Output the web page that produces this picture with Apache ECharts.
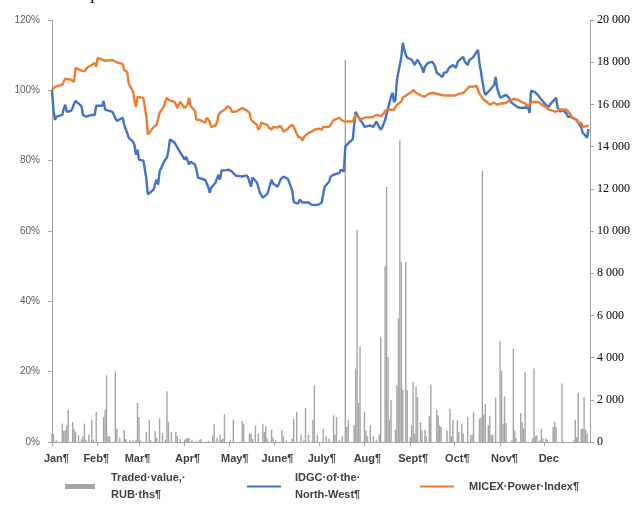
<!DOCTYPE html>
<html>
<head>
<meta charset="utf-8">
<script src="https://cdn.jsdelivr.net/npm/echarts@6/dist/echarts.min.js"></script>
<style>
  html, body { margin: 0; padding: 0; background: #fff; }
  #chart { width: 633px; height: 511px; }
</style>
</head>
<body>
<div id="chart"></div>
<script>
// month ticks (day of year) and the month labels
const monthStarts = [0, 31, 59, 90, 120, 151, 181, 212, 243, 273, 304, 334]
const monthLabelDays = [3, 30, 58, 92, 124, 153, 183, 214, 245, 275, 307, 337]
const monthLabels = ['Jan¶', 'Feb¶', 'Mar¶', 'Apr¶', 'May¶', 'June¶', 'July¶', 'Aug¶', 'Sept¶', 'Oct¶', 'Nov¶', 'Dec']

// non-trading weekdays (day of year)
const holidays = [6, 38, 66, 101, 128, 162, 192, 227, 262, 307, 339]

// IDGC of the North-West, % of first day (one value per trading day)
const idgc = [
  100, 94.5, 91.6, 92.5, 93.0, 94.8, 95.9, 93.9, 94.2, 95.0,
  96.2, 97.0, 96.8, 95.5, 93.0, 93.4, 92.5, 92.8, 93.0, 93.2,
  93.0, 95.6, 95.3, 95.6, 97.0, 94.5, 94.3, 93.9, 93.0, 92.0,
  91.3, 91.8, 92.2, 90.2, 89.0, 87.9, 86.5, 85.4, 84.3, 81.7,
  83.1, 80.3, 80.0, 79.7, 75.0, 70.4, 71.8, 73.5, 74.6, 73.2,
  76.9, 79.7, 80.2, 80.9, 82.8, 86.0, 85.2, 84.5, 83.8, 83.1,
  82.6, 80.3, 81.1, 80.0, 78.9, 79.7, 78.9, 77.4, 75.2, 75.6,
  74.5, 74.0, 72.5, 70.9, 72.3, 73.8, 75.0, 76.0, 74.6, 77.2,
  77.3, 77.6, 77.4, 77.0, 76.9, 75.7, 75.9, 75.6, 75.5, 75.8,
  75.2, 75.2, 72.6, 75.2, 73.8, 72.5, 70.9, 70.2, 69.5, 70.5,
  71.8, 73.2, 74.6, 73.5, 72.6, 73.5, 74.6, 74.2, 75.5, 74.8,
  73.8, 71.5, 68.2, 67.8, 68.9, 68.4, 68.1, 68.3, 68.1, 67.8,
  67.5, 67.0, 67.4, 67.5, 68.0, 68.1, 70.5, 72.6, 74.0, 75.5,
  75.8, 76.0, 76.5, 77.4, 77.0, 76.9, 84.0, 85.4, 85.6, 86.0,
  90.0, 93.9, 91.6, 91.6, 90.5, 89.6, 89.4, 90.0, 90.2, 89.6,
  89.4, 91.1, 88.8, 89.4, 90.5, 91.6, 98.2, 99.3, 96.7, 97.3,
  103.0, 109.5, 113.5, 111.5, 110.1, 109.3, 108.7, 108.0, 107.2, 108.0,
  108.7, 106.5, 105.0, 106.7, 107.2, 107.8, 108.1, 107.5, 106.7, 105.0,
  103.8, 105.0, 105.2, 105.2, 106.2, 107.2, 106.8, 106.4, 107.8, 108.5,
  109.5, 108.2, 107.8, 107.2, 108.5, 109.5, 110.2, 110.9, 111.5, 107.8,
  100.1, 98.7, 99.0, 99.6, 99.6, 101.5, 103.8, 100.7, 99.3, 97.9,
  98.7, 98.3, 97.9, 96.8, 95.8, 95.3, 95.2, 95.0, 95.0, 95.1,
  95.0, 95.0, 93.6, 99.9, 99.4, 99.6, 98.5, 97.9, 98.2, 95.9,
  95.5, 95.3, 96.0, 97.9, 95.0, 94.5, 93.9, 94.5, 93.5, 92.5,
  92.6, 92.5, 92.0, 91.6, 90.8, 91.1, 89.5, 88.0, 86.5, 89.0
]

// MICEX Power Index, % of first day
const micex = [
  100.1, 100.5, 101.0, 101.3, 101.6, 102.5, 103.3, 103.2, 103.0, 102.6,
  102.4, 106.4, 106.1, 105.6, 105.2, 105.4, 105.5, 106.5, 107.2, 107.5,
  107.8, 106.7, 109.2, 108.7, 108.6, 108.4, 108.5, 108.6, 108.7, 108.2,
  107.8, 107.8, 107.5, 105.8, 105.4, 105.2, 102.0, 99.6, 97.0, 95.3,
  98.2, 98.2, 97.8, 97.3, 92.5, 87.4, 89.6, 89.8, 90.2, 91.8,
  93.6, 95.5, 97.0, 97.9, 97.3, 97.0, 96.7, 96.0, 95.0, 96.0,
  96.7, 95.0, 95.3, 95.9, 97.9, 95.5, 94.2, 91.6, 91.8, 91.6,
  90.8, 92.2, 91.9, 91.1, 89.6, 90.0, 91.0, 93.0, 93.6, 93.9,
  94.8, 95.5, 95.9, 95.0, 93.9, 94.0, 94.2, 94.5, 95.0, 94.3,
  93.9, 93.6, 91.6, 91.1, 90.2, 88.8, 89.4, 90.8, 90.8, 90.2,
  89.5, 89.2, 88.8, 89.6, 89.4, 89.6, 89.9, 89.2, 88.2, 89.0,
  89.6, 90.2, 89.6, 86.8, 86.5, 86.5, 85.7, 86.8, 87.9, 88.0,
  88.2, 88.5, 88.8, 89.1, 89.1, 88.8, 89.6, 89.6, 89.6, 90.2,
  90.8, 91.5, 92.2, 91.8, 91.4, 91.1, 91.1, 91.2, 91.0, 91.1,
  91.1, 93.0, 91.9, 91.9, 92.0, 92.2, 92.3, 92.3, 92.4, 92.5,
  92.5, 93.0, 92.7, 92.5, 93.3, 94.2, 94.5, 94.5, 94.5, 95.2,
  95.9, 96.8, 97.9, 98.2, 98.5, 98.7, 99.5, 100.1, 99.6, 99.3,
  98.9, 98.4, 97.9, 98.2, 98.5, 98.9, 99.3, 99.2, 99.1, 99.0,
  98.6, 98.2, 98.5, 98.7, 98.6, 98.5, 98.5, 98.6, 98.7, 99.0,
  99.3, 99.8, 100.1, 100.5, 101.0, 101.1, 101.2, 101.3, 101.6, 99.0,
  97.3, 97.0, 96.7, 96.3, 95.9, 96.5, 96.2, 95.9, 96.0, 96.2,
  96.4, 96.7, 97.1, 97.5, 97.6, 97.4, 97.3, 97.0, 96.8, 96.3,
  95.6, 95.3, 96.0, 96.7, 96.7, 96.7, 96.7, 96.4, 96.0, 95.3,
  95.0, 94.5, 94.2, 93.9, 94.2, 94.5, 94.8, 94.6, 94.5, 94.5,
  93.6, 93.0, 92.2, 91.5, 90.8, 90.8, 90.8, 89.6, 89.8, 90.2
]

// traded value, RUB ths: day of year and value
const tradedDays = [
  0, 1, 3, 7, 8, 9, 10, 11, 14, 15,
  16, 18, 20, 21, 22, 23, 25, 27, 28, 30,
  35, 36, 37, 38, 39, 43, 44, 46, 49, 50,
  53, 55, 57, 58, 59, 60, 64, 66, 67, 70,
  71, 73, 75, 77, 78, 79, 81, 84, 85, 87,
  90, 91, 92, 93, 95, 98, 100, 101, 106, 109,
  110, 112, 114, 115, 116, 117, 121, 123, 129, 130,
  134, 135, 136, 138, 140, 143, 144, 145, 146, 149,
  150, 152, 156, 157, 159, 163, 164, 166, 169, 171,
  172, 174, 177, 178, 180, 184, 186, 188, 191, 192,
  193, 195, 197, 199, 200, 201, 205, 206, 207, 208,
  209, 212, 213, 214, 216, 218, 220, 222, 223, 226,
  227, 228, 229, 230, 233, 234, 235, 236, 237, 238,
  240, 241, 243, 244, 245, 246, 247, 248, 250, 251,
  253, 254, 256, 257, 261, 262, 263, 264, 268, 270,
  271, 272, 275, 276, 278, 279, 282, 284, 285, 286,
  290, 291, 292, 293, 294, 296, 297, 298, 299, 301,
  304, 305, 306, 307, 308, 312, 313, 314, 315, 318,
  319, 320, 321, 326, 327, 328, 329, 331, 332, 333,
  335, 336, 340, 341, 342, 346, 347, 354, 355, 356,
  357, 359, 360, 361, 362, 363
]
const tradedValues = [
  400, 380, 80, 870, 520, 550, 790, 1530, 950, 630,
  470, 320, 130, 270, 870, 110, 360, 1060, 110, 1420,
  1180, 1530, 3160, 270, 270, 3350, 630, 200, 580, 140,
  80, 80, 110, 1850, 1180, 80, 470, 1060, 80, 520,
  200, 1120, 430, 110, 2400, 950, 470, 470, 270, 140,
  110, 160, 200, 180, 110, 50, 80, 140, 50, 320,
  840, 200, 360, 110, 160, 1310, 110, 1060, 1000, 840,
  400, 400, 160, 770, 400, 870, 470, 760, 160, 580,
  200, 80, 580, 270, 80, 160, 1100, 1420, 360, 80,
  1610, 360, 1060, 2690, 360, 630, 270, 160, 1260, 360,
  1190, 110, 270, 18100, 710, 1030, 790, 3480, 10050, 1850,
  4530, 1420, 550, 270, 790, 270, 110, 360, 4980, 8330,
  12090, 4030, 1060, 1980, 580, 2690, 5850, 14300, 8530, 2480,
  8530, 2450, 240, 790, 2840, 400, 2640, 2130, 950, 550,
  580, 270, 1220, 2730, 1530, 1260, 790, 710, 550, 1580,
  270, 1030, 1030, 470, 870, 400, 1190, 320, 360, 1420,
  1110, 1150, 12840, 1310, 1790, 790, 1220, 320, 360, 2100,
  4790, 3370, 870, 2160, 900, 80, 4420, 550, 190, 1370,
  950, 680, 3320, 160, 3480, 270, 320, 80, 630, 160,
  160, 110, 710, 950, 710, 2770, 30, 80, 1060, 240,
  2340, 630, 630, 2130, 580, 400
]

// trading days: weekdays of the year (Jan 1 is a Tuesday) minus holidays
const tradingDays = []
for (let d = 0; d < 365; d++) {
  if (d % 7 === 4 || d % 7 === 5) continue
  if (holidays.includes(d)) continue
  tradingDays.push(d)
}

const BAR = 'Traded value, RUB ths'
const IDGC = 'IDGC of the North-West'
const MICEX = 'MICEX Power Index'

const legendFont = {
  color: '#404040', fontSize: 11, fontWeight: 'bold',
  fontFamily: 'Liberation Sans', lineHeight: 17
}

const chart = echarts.init(document.getElementById('chart'))
chart.setOption({
  animation: false,
  grid: { left: 52, right: 43, top: 20, bottom: 69 },
  graphic: [{
    type: 'text', left: 90, top: -17,
    style: { text: 'p', font: '20px "Liberation Serif"', fill: '#111' }
  }],
  xAxis: {
    type: 'value', min: 0, max: 365,
    splitLine: { show: false },
    axisLine: { lineStyle: { color: '#a6a6a6' } },
    axisTick: { customValues: monthStarts, length: 4, lineStyle: { color: '#a6a6a6' } },
    axisLabel: {
      customValues: monthLabelDays,
      formatter: v => monthLabels[monthLabelDays.indexOf(v)] || '',
      margin: 11, color: '#404040', fontSize: 11, fontWeight: 'bold',
      fontFamily: 'Liberation Sans'
    }
  },
  yAxis: [
    {
      type: 'value', min: 0, max: 120, interval: 20, position: 'left',
      splitLine: { show: false },
      axisLine: { show: true, lineStyle: { color: '#a6a6a6' } },
      axisTick: { show: true, length: 4, lineStyle: { color: '#a6a6a6' } },
      axisLabel: {
        formatter: '{value}%', color: '#595959', fontSize: 10, margin: 12,
        fontFamily: 'Liberation Sans'
      }
    },
    {
      type: 'value', min: 0, max: 20000, interval: 2000, position: 'right',
      splitLine: { show: false },
      axisLine: { show: true, lineStyle: { color: '#a6a6a6' } },
      axisTick: { show: true, length: 4, lineStyle: { color: '#a6a6a6' } },
      axisLabel: {
        formatter: v => v ? (v / 1000) + ' 000' : '0',
        color: '#000', fontSize: 12, margin: 7, fontFamily: 'Liberation Serif'
      }
    }
  ],
  legend: [
    {
      data: [{ name: BAR, icon: 'rect' }], left: 65, top: 461, padding: 0,
      itemWidth: 30, itemHeight: 5,
      formatter: () => 'Traded·value,·\nRUB·ths¶',
      textStyle: Object.assign({ padding: [17, 0, 0, 11] }, legendFont)
    },
    {
      data: [{ name: IDGC, icon: 'rect' }], left: 247, top: 461, padding: 0,
      itemWidth: 34, itemHeight: 2,
      formatter: () => 'IDGC·of·the·\nNorth-West¶',
      textStyle: Object.assign({ padding: [17, 0, 0, 9] }, legendFont)
    },
    {
      data: [{ name: MICEX, icon: 'rect' }], left: 420, top: 478, padding: 0,
      itemWidth: 34, itemHeight: 2,
      formatter: () => 'MICEX·Power·Index¶',
      textStyle: Object.assign({ padding: [0, 0, 0, 10] }, legendFont)
    }
  ],
  series: [
    {
      name: BAR, type: 'bar', yAxisIndex: 1, barWidth: 1.4,
      itemStyle: { color: '#a5a5a5' },
      data: tradedDays.map((d, i) => [d, tradedValues[i]])
    },
    {
      name: IDGC, type: 'line', yAxisIndex: 0, symbol: 'none',
      lineStyle: { color: '#4472c4', width: 2.4 }, itemStyle: { color: '#4472c4' },
      data: tradingDays.map((d, i) => [d, idgc[i]])
    },
    {
      name: MICEX, type: 'line', yAxisIndex: 0, symbol: 'none',
      lineStyle: { color: '#ed7d31', width: 2.4 }, itemStyle: { color: '#ed7d31' },
      data: tradingDays.map((d, i) => [d, micex[i]])
    }
  ]
})
</script>
</body>
</html>
